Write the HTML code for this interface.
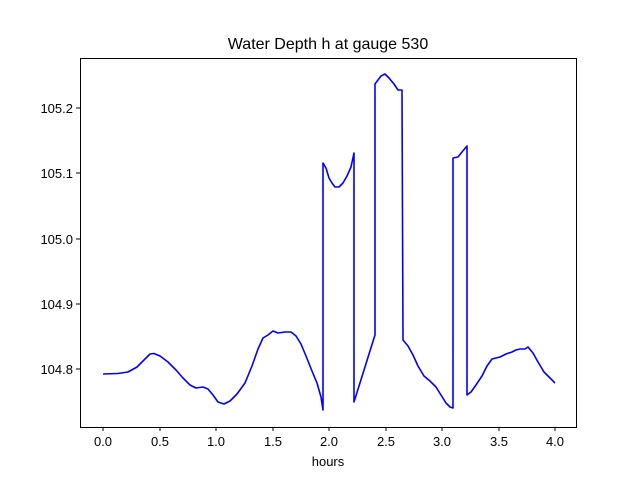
<!DOCTYPE html>
<html><head><style>body{margin:0;background:#fff}svg{display:block;font-family:"Liberation Sans","DejaVu Sans",sans-serif}</style></head>
<body>
<svg width="640" height="480" viewBox="0 0 640 480">
<rect width="640" height="480" fill="#fff"/>
<text x="328" y="49" font-size="16" text-anchor="middle">Water Depth h at gauge 530</text>
<polyline fill="none" stroke="#0000ff" stroke-width="1.6" stroke-linejoin="round" points="103,374 118,373.5 128,372 137,367 144,360 150,354 154,353.5 160,356 168,362 176,370 183,378 190,385 196,388 203,387 208,389 213,395 218,402 224,404 230,401 237,394 245,383 252,366 258,349 263,338 268,335 273,331 278,333 285,332 291,332 296,336 301,344 306,356 312,371 317,383 321,397 323,410 323,163 326,168 329,178 332,183 335,187 339,187 343,183 347,176 351,167 354,153 354,402 375,335 375,84 378,80 381,76 385,74 389,78 394,84 398,90 402,90 403,340 408,346 413,355 418,366 424,376 430,381 436,387 441,395 446,403 450,407 453,408 453,158 458,157 462,152 467,146 467,395 471,392 476,385 482,376 487,366 492,359 500,357 506,354 512,352 516,350 520,349 525,349 528,347 533,353 538,362 544,372 550,378 555,383"/>
<rect x="80.5" y="58.5" width="496" height="369" fill="none" stroke="#000" stroke-width="1"/>
<g stroke="#000" stroke-width="1">
<line x1="103" y1="427" x2="103" y2="431"/><line x1="160" y1="427" x2="160" y2="431"/><line x1="216" y1="427" x2="216" y2="431"/><line x1="273" y1="427" x2="273" y2="431"/><line x1="329" y1="427" x2="329" y2="431"/><line x1="386" y1="427" x2="386" y2="431"/><line x1="442" y1="427" x2="442" y2="431"/><line x1="499" y1="427" x2="499" y2="431"/><line x1="555" y1="427" x2="555" y2="431"/>
<line x1="76" y1="369" x2="80" y2="369"/><line x1="76" y1="304" x2="80" y2="304"/><line x1="76" y1="239" x2="80" y2="239"/><line x1="76" y1="173" x2="80" y2="173"/><line x1="76" y1="108" x2="80" y2="108"/>
</g>
<g font-size="13" text-anchor="middle">
<text x="103" y="446">0.0</text><text x="160" y="446">0.5</text><text x="216" y="446">1.0</text><text x="273" y="446">1.5</text><text x="329" y="446">2.0</text><text x="386" y="446">2.5</text><text x="442" y="446">3.0</text><text x="499" y="446">3.5</text><text x="555" y="446">4.0</text>
<text x="328" y="466">hours</text>
</g>
<g font-size="13" text-anchor="end">
<text x="73" y="374">104.8</text><text x="73" y="309">104.9</text><text x="73" y="244">105.0</text><text x="73" y="178">105.1</text><text x="73" y="113">105.2</text>
</g>
</svg>
</body></html>
